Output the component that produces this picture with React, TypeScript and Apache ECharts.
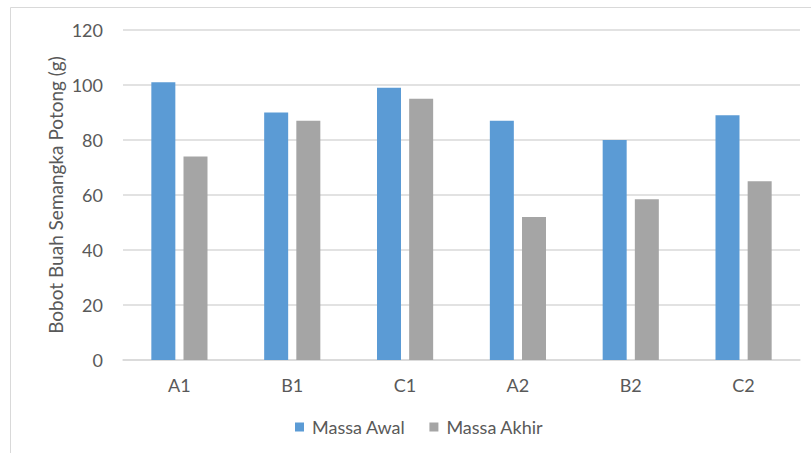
import React, { useEffect, useRef } from "react";
import * as echarts from "echarts";

const categories = ["A1", "B1", "C1", "A2", "B2", "C2"];
const massaAwal = [101, 90, 99, 87, 80, 89];
const massaAkhir = [74, 87, 95, 52, 58.5, 65];
const yTicks = { min: 0, max: 120, interval: 20 };
const seriesNames = ["Massa Awal", "Massa Akhir"];

const FONT = "Lato, 'Open Sans', sans-serif";
const TEXT = "#595959";

export default function App() {
  const ref = useRef<HTMLDivElement>(null);
  useEffect(() => {
    if (!ref.current) return;
    const chart = echarts.init(ref.current, undefined, { renderer: "svg" });
    chart.setOption({
      animation: false,
      backgroundColor: "#ffffff",
      textStyle: { fontFamily: FONT },
      graphic: [
        {
          type: "rect",
          shape: { x: 10.5, y: 7.5, width: 900, height: 600 },
          style: { fill: "none", stroke: "#d9d9d9", lineWidth: 1 },
          silent: true,
          z: -10,
        },
      ],
      grid: { left: 123, right: 11, top: 30, bottom: 93 },
      legend: {
        left: 295,
        top: 418,
        padding: 0,
        itemWidth: 9,
        itemHeight: 9,
        itemGap: 24,
        icon: "rect",
        textStyle: { color: TEXT, fontSize: 18, fontFamily: FONT, padding: [0, 0, 0, 3] },
        data: seriesNames,
      },
      xAxis: {
        type: "category",
        data: categories,
        axisLine: { show: true, lineStyle: { color: "#d9d9d9", width: 1.5 } },
        axisTick: { show: false },
        axisLabel: { color: TEXT, fontSize: 18, margin: 16, fontFamily: FONT },
      },
      yAxis: {
        type: "value",
        min: yTicks.min,
        max: yTicks.max,
        interval: yTicks.interval,
        name: "Bobot Buah Semangka Potong (g)",
        nameLocation: "middle",
        nameGap: 58,
        nameMoveOverlap: false,
        nameTextStyle: { color: TEXT, fontSize: 19, fontFamily: FONT },
        axisLine: { show: false },
        axisTick: { show: false },
        axisLabel: { color: TEXT, fontSize: 18, margin: 20, fontFamily: FONT },
        splitLine: { lineStyle: { color: "#d9d9d9", width: 1.5 } },
      },
      series: [
        {
          name: seriesNames[0],
          type: "bar",
          data: massaAwal,
          barWidth: 24,
          barGap: "34%",
          itemStyle: { color: "#5B9BD5" },
        },
        {
          name: seriesNames[1],
          type: "bar",
          data: massaAkhir,
          barWidth: 24,
          barGap: "34%",
          itemStyle: { color: "#A5A5A5" },
        },
      ],
    });
    return () => chart.dispose();
  }, []);
  return (
    <div
      ref={ref}
      style={{ position: "fixed", left: 0, top: 0, width: 811, height: 453 }}
    />
  );
}
